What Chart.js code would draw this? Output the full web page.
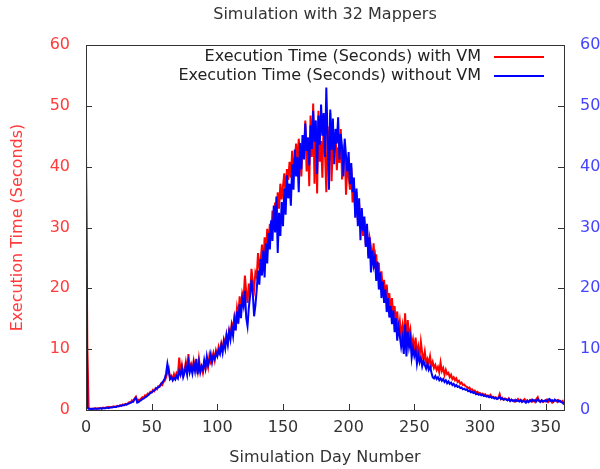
<!DOCTYPE html>
<html>
<head>
<meta charset="utf-8">
<style>
  html, body { margin: 0; padding: 0; background: #fff; }
  #wrap { width: 600px; height: 469px; }
</style>
</head>
<body>
<div id="wrap"><canvas id="chart"></canvas></div>
<script src="https://cdn.jsdelivr.net/npm/chart.js@4/dist/chart.umd.min.js"></script>
<script>
// execution time per simulated day
const withVM = [
  43, 10.5, 0.3, 0.2, 0.2, 0.2, 0.2, 0.3, 0.2, 0.3,
  0.3, 0.3, 0.3, 0.4, 0.3, 0.4, 0.4, 0.5, 0.4, 0.5,
  0.5, 0.6, 0.5, 0.6, 0.7, 0.6, 0.8, 0.7, 0.9, 0.8,
  1.0, 0.9, 1.1, 1.3, 1.2, 1.6, 1.4, 1.9, 2.2, 1.5,
  1.7, 1.6, 1.9, 2.1, 2.0, 2.4, 2.3, 2.7, 2.6, 3.0,
  2.9, 3.3, 3.1, 3.6, 3.4, 3.9, 3.8, 4.3, 4.1, 4.6,
  4.8, 5.4, 6.2, 6.8, 5.2, 5.6, 5.0, 5.9, 5.3, 6.1,
  5.8, 8.6, 6.2, 7.4, 5.9, 6.6, 7.9, 6.3, 9.2, 6.8,
  7.5, 6.4, 8.1, 6.9, 7.2, 6.2, 8.4, 6.6, 7.0, 6.1,
  7.6, 6.8, 8.3, 7.1, 9.0, 7.9, 8.6, 9.4, 8.2, 9.8,
  9.1, 10.4, 9.6, 10.9, 9.9, 11.6, 10.8, 12.4, 11.2, 13.1,
  12.6, 14.2, 13.4, 15.3, 14.1, 16.8, 15.4, 18.7, 16.2, 19.1,
  18.2, 22.1, 19.4, 17.6, 20.8, 18.9, 23.2, 21.1, 19.8, 22.6,
  21.9, 25.8, 23.4, 24.6, 27.2, 22.8, 28.4, 25.9, 29.8, 27.1,
  30.6, 28.4, 32.8, 29.6, 34.1, 31.2, 35.8, 33.1, 37.2, 34.6,
  36.8, 38.9, 35.2, 39.6, 37.8, 40.8, 38.2, 42.6, 39.4, 41.2,
  43.8, 40.1, 44.6, 41.8, 38.4, 45.2, 42.4, 47.6, 39.2, 44.8,
  36.8, 48.4, 41.6, 50.4, 37.2, 46.1, 35.6, 49.2, 40.8, 44.2,
  38.2, 47.8, 42.4, 35.8, 46.6, 40.2, 48.8, 37.6, 44.1, 42.8,
  45.6, 39.4, 43.2, 40.6, 46.2, 37.9, 41.4, 43.8, 35.4, 40.2,
  38.6, 36.2, 39.8, 34.1, 37.4, 32.6, 35.8, 31.2, 33.9, 29.8,
  32.4, 28.6, 31.1, 27.2, 29.8, 25.4, 28.2, 26.8, 24.1, 27.4,
  23.2, 25.6, 21.8, 24.2, 20.4, 22.8, 19.6, 21.4, 18.2, 20.6,
  17.4, 19.2, 16.1, 18.4, 15.2, 17.1, 13.8, 16.2, 12.9, 14.6,
  12.2, 13.8, 11.4, 15.9, 10.6, 14.8, 12.1, 13.2, 10.4, 11.6,
  9.8, 11.9, 9.2, 10.4, 8.6, 11.2, 9.4, 8.2, 9.6, 7.8,
  8.4, 7.6, 8.8, 7.2, 7.9, 6.9, 7.4, 6.6, 7.1, 6.2,
  7.8, 6.4, 6.9, 5.8, 6.6, 5.9, 6.1, 5.4, 5.8, 5.1,
  5.4, 4.9, 5.2, 4.6, 4.8, 4.3, 4.5, 4.1, 4.2, 3.9,
  3.8, 3.6, 3.7, 3.3, 3.4, 3.1, 3.2, 2.9, 3.0, 2.8,
  2.8, 2.6, 2.7, 2.5, 2.6, 2.3, 2.4, 2.2, 2.5, 2.1,
  2.2, 2.0, 2.1, 1.9, 2.0, 2.6, 1.8, 2.0, 1.7, 1.9,
  1.8, 1.6, 1.9, 1.5, 1.7, 1.6, 1.4, 1.7, 1.5, 1.8,
  1.5, 1.7, 1.4, 1.6, 1.8, 1.4, 1.6, 1.3, 1.5, 1.7,
  1.4, 1.6, 1.3, 1.8, 2.1, 1.5, 1.4, 1.6, 1.3, 1.5,
  1.4, 1.7, 1.3, 1.5, 1.6, 1.2, 1.4, 1.7, 1.5, 1.3,
  1.6, 1.4, 1.3, 1.5, 1.0
];
const withoutVM = [
  40, 0.4, 0.2, 0.2, 0.1, 0.2, 0.2, 0.2, 0.2, 0.2,
  0.2, 0.3, 0.2, 0.3, 0.3, 0.3, 0.4, 0.3, 0.4, 0.4,
  0.4, 0.5, 0.5, 0.5, 0.6, 0.6, 0.7, 0.7, 0.8, 0.8,
  0.9, 0.9, 1.0, 1.1, 1.2, 1.3, 1.4, 1.8, 2.0, 1.2,
  1.3, 1.5, 1.6, 1.8, 1.9, 2.1, 2.2, 2.4, 2.6, 2.8,
  2.9, 3.1, 3.2, 3.4, 3.6, 3.7, 3.9, 4.2, 4.5, 4.8,
  5.2, 6.0, 7.6, 6.4, 5.1, 5.4, 4.9, 5.3, 5.0, 5.6,
  5.2, 6.4, 5.8, 6.9, 5.4, 6.1, 7.2, 5.9, 7.8, 6.2,
  7.1, 6.0, 7.6, 6.4, 8.4, 5.9, 7.8, 6.2, 7.2, 6.6,
  8.2, 6.9, 8.8, 7.4, 8.1, 9.2, 7.8, 8.9, 8.4, 9.4,
  8.8, 9.8, 9.2, 10.6, 9.4, 11.2, 10.1, 12.2, 10.8, 12.9,
  11.6, 13.6, 12.2, 14.8, 13.1, 16.2, 14.2, 17.4, 15.1, 18.2,
  17.1, 19.6, 15.2, 13.8, 16.8, 18.9, 21.4, 19.2, 15.4, 17.2,
  19.8, 22.9, 20.6, 24.8, 22.1, 26.2, 21.8, 27.4, 24.1, 29.1,
  26.4, 31.2, 27.8, 33.6, 29.2, 35.1, 25.8, 32.4, 28.6, 34.2,
  30.2, 36.4, 32.1, 38.6, 34.8, 37.2, 33.6, 40.4, 36.2, 42.8,
  38.4, 41.6, 35.8, 43.9, 39.6, 45.2, 41.2, 47.1, 42.6, 44.8,
  40.2, 46.8, 42.9, 49.2, 44.1, 47.6, 38.8, 48.4, 43.6, 50.2,
  45.1, 48.8, 41.6, 53.0, 44.6, 36.2, 49.4, 42.8, 47.9, 40.4,
  46.2, 43.8, 48.1, 41.2, 45.4, 43.2, 38.4, 44.6, 41.8, 39.2,
  42.4, 37.1, 40.6, 35.8, 38.2, 31.6, 36.4, 30.2, 34.8, 27.9,
  33.2, 29.4, 31.8, 26.8, 30.6, 24.9, 28.4, 22.6, 26.2, 23.8,
  25.1, 21.2, 24.4, 19.8, 22.6, 18.4, 21.1, 17.6, 19.8, 16.1,
  18.4, 15.2, 17.1, 14.1, 16.4, 12.8, 15.1, 11.4, 13.6, 12.1,
  10.4, 11.8, 9.2, 14.1, 8.8, 12.9, 10.4, 11.8, 8.6, 10.2,
  8.9, 9.8, 7.6, 9.1, 7.9, 8.6, 7.2, 8.1, 7.4, 6.8,
  7.6, 6.6, 7.1, 6.2, 5.4, 5.2, 5.6, 5.1, 5.4, 4.9,
  5.2, 4.8, 5.1, 4.6, 4.9, 4.4, 4.7, 4.3, 4.5, 4.1,
  4.3, 3.9, 4.1, 3.8, 3.9, 3.6, 3.7, 3.4, 3.5, 3.3,
  3.4, 3.1, 3.2, 2.9, 3.0, 2.8, 2.9, 2.6, 2.7, 2.5,
  2.6, 2.4, 2.5, 2.3, 2.4, 2.2, 2.3, 2.1, 2.2, 2.0,
  2.1, 1.9, 2.0, 1.8, 1.9, 2.2, 1.8, 1.9, 1.7, 1.8,
  1.7, 1.6, 1.8, 1.5, 1.7, 1.5, 1.6, 1.4, 1.6, 1.5,
  1.4, 1.6, 1.3, 1.5, 1.4, 1.2, 1.5, 1.3, 1.6, 1.4,
  1.7, 1.5, 1.6, 1.4, 1.8, 1.5, 1.3, 1.6, 1.4, 1.5,
  1.6, 1.4, 1.7, 1.8, 1.5, 1.6, 1.4, 1.7, 1.5, 1.6,
  1.4, 1.5, 1.3, 1.2, 0.9
];
const days = withVM.map((_, i) => i);
const xTicks = [0, 50, 100, 150, 200, 250, 300, 350];
const yTicks = [0, 10, 20, 30, 40, 50, 60];

const red = "#ff0000";
const blue = "#0000ff";
const redText = "#ff3b3b";
const blueText = "#4444ff";
const textDark = "#333333";
const font = "'DejaVu Sans', sans-serif";

Chart.defaults.font.family = font;
Chart.defaults.font.size = 16;

// gnuplot look: box border, inward tick marks, key inside the top right corner
const framePlugin = {
  id: "frame",
  afterDraw(chart) {
    const { ctx, chartArea: a, scales } = chart;
    ctx.save();
    ctx.strokeStyle = textDark;
    ctx.lineWidth = 1;
    ctx.strokeRect(a.left + 0.5, a.top + 0.5, a.right - a.left, a.bottom - a.top);
    ctx.beginPath();
    xTicks.forEach(v => {
      const x = Math.round(scales.x.getPixelForValue(v)) + 0.5;
      ctx.moveTo(x, a.bottom);
      ctx.lineTo(x, a.bottom - 6);
    });
    yTicks.forEach(v => {
      const y = Math.round(scales.y.getPixelForValue(v)) + 0.5;
      ctx.moveTo(a.left, y);
      ctx.lineTo(a.left + 6, y);
      const y2 = Math.round(scales.y2.getPixelForValue(v)) + 0.5;
      ctx.moveTo(a.right, y2);
      ctx.lineTo(a.right - 6, y2);
    });
    ctx.stroke();

    const keys = [
      { text: "Execution Time (Seconds) with VM", color: red },
      { text: "Execution Time (Seconds) without VM", color: blue }
    ];
    ctx.font = "16px " + font;
    ctx.textAlign = "right";
    ctx.textBaseline = "middle";
    keys.forEach((k, i) => {
      const y = a.top + 12 + i * 19;
      ctx.fillStyle = "#222222";
      ctx.fillText(k.text, a.right - 83, y);
      ctx.strokeStyle = k.color;
      ctx.lineWidth = 2;
      ctx.beginPath();
      ctx.moveTo(a.right - 70, y);
      ctx.lineTo(a.right - 20, y);
      ctx.stroke();
    });
    ctx.restore();
  }
};

new Chart(document.getElementById("chart"), {
  type: "line",
  data: {
    labels: days,
    datasets: [
      {
        label: "Execution Time (Seconds) with VM",
        data: withVM,
        borderColor: red,
        borderWidth: 2,
        pointRadius: 0,
        tension: 0,
        yAxisID: "y",
        order: 1
      },
      {
        label: "Execution Time (Seconds) without VM",
        data: withoutVM,
        borderColor: blue,
        borderWidth: 2,
        pointRadius: 0,
        tension: 0,
        yAxisID: "y2",
        order: 0
      }
    ]
  },
  options: {
    responsive: true,
    maintainAspectRatio: false,
    animation: false,
    layout: { padding: 0 },
    plugins: {
      legend: { display: false },
      tooltip: { enabled: false },
      title: {
        display: true,
        text: "Simulation with 32 Mappers",
        color: textDark,
        fullSize: false,
        font: { size: 16, weight: "normal" },
        padding: { top: 5.4, bottom: 20.4 }
      }
    },
    scales: {
      x: {
        type: "linear",
        min: 0,
        max: 364,
        afterBuildTicks: s => { s.ticks = xTicks.map(v => ({ value: v })); },
        afterFit: s => { s.height = 59; },
        ticks: { color: textDark, padding: 8, maxRotation: 0 },
        grid: { display: false, drawTicks: false },
        border: { display: false },
        title: {
          display: true,
          text: "Simulation Day Number",
          color: textDark,
          padding: { top: 2, bottom: 1.5 }
        }
      },
      y: {
        position: "left",
        min: 0,
        max: 60,
        afterBuildTicks: s => { s.ticks = yTicks.map(v => ({ value: v })); },
        afterFit: s => { s.width = 86; },
        ticks: { color: redText, padding: 16 },
        grid: { display: false, drawTicks: false },
        border: { display: false },
        title: {
          display: true,
          text: "Execution Time (Seconds)",
          color: redText,
          padding: { top: 8.4, bottom: 2 }
        }
      },
      y2: {
        position: "right",
        min: 0,
        max: 60,
        afterBuildTicks: s => { s.ticks = yTicks.map(v => ({ value: v })); },
        afterFit: s => { s.width = 36; },
        ticks: { color: blueText, padding: 16 },
        grid: { display: false, drawTicks: false },
        border: { display: false }
      }
    }
  },
  plugins: [framePlugin]
});
</script>
</body>
</html>
